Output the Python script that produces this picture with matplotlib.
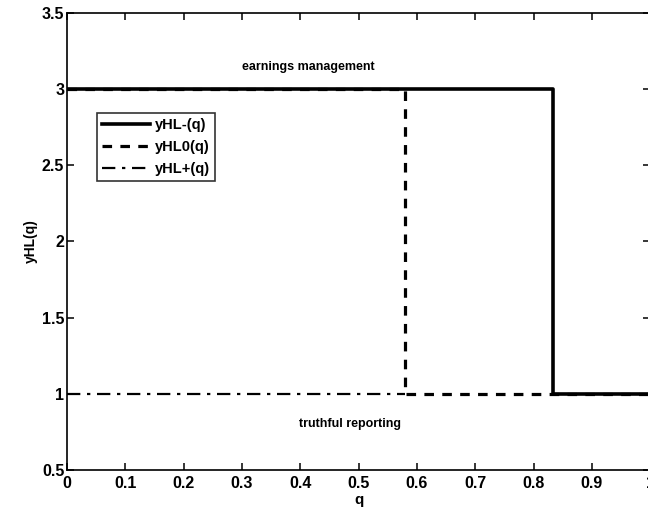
import matplotlib
matplotlib.use("Agg")
import matplotlib.pyplot as plt

# Threshold curves yHL(q)
q_minus = [0.0, 0.833, 0.833, 1.0]
y_minus = [3, 3, 1, 1]

q_zero = [0.0, 0.58, 0.58, 1.0]
y_zero = [3, 3, 1, 1]

q_plus = [0.0, 0.58]
y_plus = [1, 1]

x_ticks = [0, 0.1, 0.2, 0.3, 0.4, 0.5, 0.6, 0.7, 0.8, 0.9, 1]
x_tick_labels = ["0", "0.1", "0.2", "0.3", "0.4", "0.5", "0.6", "0.7", "0.8", "0.9", "1"]
y_ticks = [0.5, 1, 1.5, 2, 2.5, 3, 3.5]
y_tick_labels = ["0.5", "1", "1.5", "2", "2.5", "3", "3.5"]

plt.rcParams["font.family"] = ["Liberation Sans", "DejaVu Sans"]
plt.rcParams["font.weight"] = "bold"

fig = plt.figure(figsize=(6.48, 5.15), dpi=100)
ax = fig.add_axes([0.1035, 0.0874, 0.9, 0.8874])

ax.plot(q_zero, y_zero, color="black", lw=2.3, ls=(0, (3.0, 2.6)), label="yHL0(q)", zorder=2)
ax.plot(q_minus, y_minus, color="black", lw=2.6, ls="-", label="yHL-(q)", zorder=3)
ax.plot(q_plus, y_plus, color="black", lw=1.6, ls=(0, (6, 3, 1.5, 3)), label="yHL+(q)", zorder=2)

handles, labels = ax.get_legend_handles_labels()
order = [1, 0, 2]
leg = ax.legend([handles[i] for i in order], [labels[i] for i in order],
                loc="upper left", bbox_to_anchor=(0.051, 0.781), frameon=True,
                fancybox=False, edgecolor="black", fontsize=10.5,
                handlelength=3.3, borderpad=0.35, labelspacing=0.55,
                handletextpad=0.3, borderaxespad=0.0)
leg.get_frame().set_linewidth(1.2)

ax.text(0.413, 3.145, "earnings management", ha="center", va="center", fontsize=9, fontweight="bold")
ax.text(0.485, 0.80, "truthful reporting", ha="center", va="center", fontsize=9, fontweight="bold")

ax.set_xlim(0, 1)
ax.set_ylim(0.5, 3.5)
ax.set_xticks(x_ticks)
ax.set_xticklabels(x_tick_labels)
ax.set_yticks(y_ticks)
ax.set_yticklabels(y_tick_labels)
ax.tick_params(direction="in", top=True, right=True, labelsize=11.5, width=1.1, length=5)
ax.tick_params(axis="x", pad=4)
ax.tick_params(axis="y", pad=2)
for s in ax.spines.values():
    s.set_linewidth(1.2)

ax.set_xlabel("q", fontsize=11, fontweight="bold", labelpad=2)
ax.set_ylabel("yHL(q)", fontsize=10, fontweight="bold", labelpad=3)

fig.savefig("out.png", dpi=100)
